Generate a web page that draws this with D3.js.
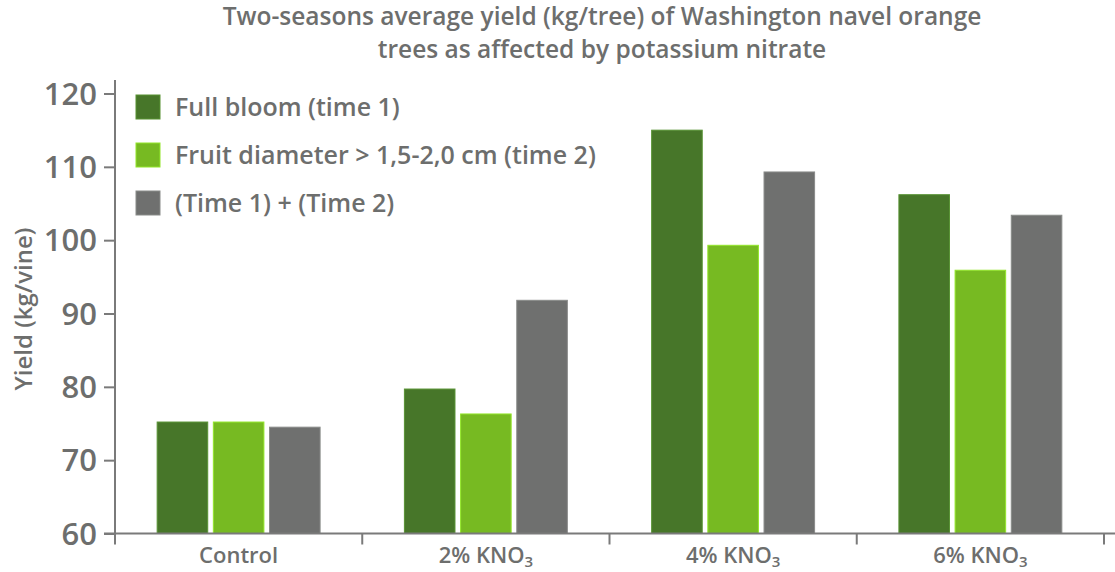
<!DOCTYPE html>
<html>
<head>
<meta charset="utf-8">
<script src="https://cdn.jsdelivr.net/npm/d3@7/dist/d3.min.js"></script>
<style>
  html, body { margin: 0; padding: 0; background: #fff; }
  svg { display: block; font-family: "Open Sans", "Noto Sans", sans-serif; }
</style>
</head>
<body>
<svg id="chart" width="1115" height="572"></svg>
<script>
// Treatments on the x axis
const categories = ["Control", "2% KNO3", "4% KNO3", "6% KNO3"];
// Application timing series
const seriesNames = ["Full bloom (time 1)", "Fruit diameter > 1,5-2,0 cm (time 2)", "(Time 1) + (Time 2)"];
// Yield (kg/vine), one value per treatment
const fullBloom = [75.2, 79.7, 115.0, 106.2];
const fruitDiameter = [75.2, 76.3, 99.3, 95.9];
const bothTimes = [74.5, 91.8, 109.3, 103.4];
const yTicks = [60, 70, 80, 90, 100, 110, 120];
const titleLines = ["Two-seasons average yield (kg/tree) of Washington navel orange",
                    "trees as affected by potassium nitrate"];

const colors = ["#477629", "#77ba22", "#6f706f"];
const textColor = "#6d6e6d";
const axisColor = "#7a7a7a";

const values = [fullBloom, fruitDiameter, bothTimes];

const svg = d3.select("#chart");
const left = 115, right = 1104, bottom = 533.5;

const y = d3.scaleLinear().domain([60, 120]).range([bottom, 93.5]);

const x0 = d3.scaleBand().domain(categories).range([left, right])
  .paddingInner(0.341).paddingOuter(0.1705);
const x1 = d3.scaleBand().domain(d3.range(seriesNames.length))
  .range([0, x0.bandwidth()]).paddingInner(0.1).paddingOuter(0);

// Title, two centred lines
svg.append("g").selectAll("text")
  .data(titleLines)
  .join("text")
  .attr("x", 602)
  .attr("y", (d, i) => 24.5 + i * 33.5)
  .attr("text-anchor", "middle")
  .attr("font-size", 24.5).attr("font-weight", 600).attr("fill", textColor)
  .text(d => d);

// Bars
const groups = svg.append("g").selectAll("g")
  .data(categories)
  .join("g")
  .attr("transform", d => `translate(${x0(d)},0)`);

groups.selectAll("rect")
  .data((d, ci) => values.map((s, si) => ({ si, v: s[ci] })))
  .join("rect")
  .attr("x", d => x1(d.si))
  .attr("width", x1.bandwidth())
  .attr("y", d => y(d.v))
  .attr("height", d => y(60) - y(d.v))
  .attr("fill", d => colors[d.si])
  .attr("stroke", d => d3.color(colors[d.si]).brighter(0.6))
  .attr("stroke-width", 1);

// Y axis
const yAxis = svg.append("g")
  .attr("transform", `translate(${left},0)`)
  .call(d3.axisLeft(y).tickValues(yTicks).tickSize(11).tickSizeOuter(0).tickPadding(7));
yAxis.select(".domain").remove();
yAxis.selectAll(".tick line").attr("stroke", axisColor).attr("stroke-width", 2);
yAxis.selectAll(".tick text")
  .attr("fill", textColor)
  .attr("font-size", 31).attr("font-weight", 600)
  .attr("font-family", "'Open Sans', 'Noto Sans', sans-serif")
  .attr("dy", "0.34em");
svg.append("line")
  .attr("x1", left).attr("x2", left)
  .attr("y1", 80).attr("y2", bottom + 11)
  .attr("stroke", axisColor).attr("stroke-width", 2);

// X axis baseline and category separators
svg.append("line")
  .attr("x1", left - 11).attr("x2", 1115)
  .attr("y1", bottom).attr("y2", bottom)
  .attr("stroke", axisColor).attr("stroke-width", 2);
const step = x0.step();
const boundaries = categories.map((c, i) => x0(c) + x0.bandwidth() + step * 0.341 / 2);
svg.append("g").selectAll("line")
  .data(boundaries)
  .join("line")
  .attr("x1", d => d).attr("x2", d => d)
  .attr("y1", bottom).attr("y2", bottom + 11)
  .attr("stroke", axisColor).attr("stroke-width", 2);

// Category labels, with KNO3 subscript
const xl = svg.append("g").selectAll("text")
  .data(categories)
  .join("text")
  .attr("x", d => x0(d) + x0.bandwidth() / 2)
  .attr("y", 563)
  .attr("text-anchor", "middle")
  .attr("font-size", 22).attr("font-weight", 600).attr("fill", textColor);
xl.each(function(d) {
  const t = d3.select(this);
  const m = d.match(/^(.*KNO)(\d)$/);
  if (m) {
    t.append("tspan").text(m[1]);
    t.append("tspan").attr("font-size", 15).attr("dy", 4).text(m[2]);
  } else {
    t.text(d);
  }
});

// Y axis title
svg.append("text")
  .attr("transform", "translate(32,309) rotate(-90)")
  .attr("text-anchor", "middle")
  .attr("font-size", 24).attr("font-weight", 600).attr("fill", textColor)
  .text("Yield (kg/vine)");

// Legend
const legend = svg.append("g").selectAll("g")
  .data(seriesNames)
  .join("g")
  .attr("transform", (d, i) => `translate(136,${95 + i * 48})`);
legend.append("rect")
  .attr("width", 24).attr("height", 24)
  .attr("fill", (d, i) => colors[i])
  .attr("stroke", (d, i) => d3.color(colors[i]).brighter(0.6))
  .attr("stroke-width", 1);
legend.append("text")
  .attr("x", 39).attr("y", 12).attr("dy", "0.36em")
  .attr("font-size", 25).attr("font-weight", 600).attr("fill", textColor)
  .text(d => d);
</script>
</body>
</html>
